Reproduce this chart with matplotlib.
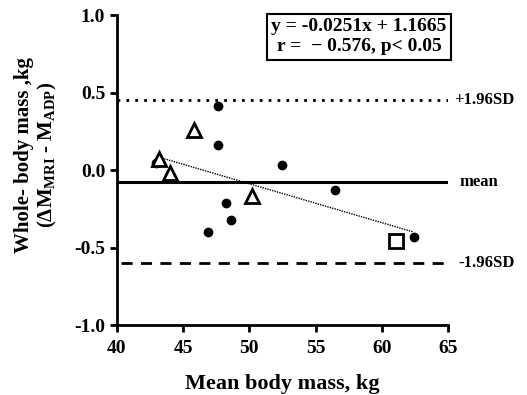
import matplotlib
matplotlib.use("Agg")
import matplotlib.pyplot as plt

plt.rcParams['font.family'] = ['Liberation Serif', 'DejaVu Serif']
plt.rcParams['font.weight'] = 'bold'
plt.rcParams['mathtext.fontset'] = 'custom'
plt.rcParams['mathtext.rm'] = 'Liberation Serif:bold'
plt.rcParams['mathtext.it'] = 'Liberation Serif:bold'
plt.rcParams['mathtext.bf'] = 'Liberation Serif:bold'

# data
circle_x = [47.6, 47.6, 52.5, 56.5, 48.2, 48.6, 46.9, 62.4, 42.95]
circle_y = [0.41, 0.16, 0.03, -0.13, -0.21, -0.32, -0.40, -0.43, 0.045]
tri_x = [43.2, 44.0, 45.8, 50.2]
tri_y = [0.07, -0.02, 0.26, -0.17]
square_x = [61.1]
square_y = [-0.455]

mean_diff = -0.075
upper_sd = 0.45
lower_sd = -0.60
slope = -0.0251
intercept = 1.1665
fit_x = [43.2, 62.4]

fig = plt.figure(figsize=(5.27, 3.95), dpi=100)
ax = fig.add_axes([0.222, 0.177, 0.628, 0.785])

ax.plot([40, 65], [upper_sd, upper_sd], color='black', lw=2, linestyle=(0, (1, 2.2)))
ax.plot([40, 65], [mean_diff, mean_diff], color='black', lw=2.2)
ax.plot([40.3, 65], [lower_sd, lower_sd], color='black', lw=2, linestyle=(0, (4, 3)))

ax.plot(fit_x, [slope * v + intercept for v in fit_x], color='black', lw=1, linestyle=(0, (1, 0.8)))

ax.plot(circle_x, circle_y, 'o', color='black', ms=6, zorder=3)
ax.plot(tri_x, tri_y, '^', mfc='white', mec='black', mew=2, ms=10, zorder=4)
ax.plot(square_x, square_y, 's', mfc='white', mec='black', mew=2, ms=10, zorder=4)

ax.text(65.5, upper_sd, '+1.96SD', fontsize=12, fontweight='bold', va='center', ha='left')
ax.text(65.9, mean_diff, 'mean', fontsize=12, fontweight='bold', va='center', ha='left')
ax.text(65.8, lower_sd, '-1.96SD', fontsize=12, fontweight='bold', va='center', ha='left')

ax.text(0.731, 0.99, 'y = -0.0251x + 1.1665\nr =  \u2212 0.576, p< 0.05', transform=ax.transAxes,
        fontsize=14, fontweight='bold', ha='center', va='top', multialignment='center',
        linespacing=1.25,
        bbox=dict(boxstyle='square,pad=0.22', fc='white', ec='black', lw=1.5))

ax.set_xlim(40, 65)
ax.set_ylim(-1.0, 1.0)
ax.set_xticks([40, 45, 50, 55, 60, 65])
ax.set_yticks([-1.0, -0.5, 0.0, 0.5, 1.0])
ax.set_yticklabels(['-1.0', '-0.5', '0.0', '0.5', '1.0'])
for s in ['top', 'right']:
    ax.spines[s].set_visible(False)
for s in ['left', 'bottom']:
    ax.spines[s].set_linewidth(2)
ax.tick_params(width=2, length=5, labelsize=14)
ax.tick_params(axis='x', pad=6)
for lab in ax.get_xticklabels() + ax.get_yticklabels():
    lab.set_fontweight('bold')

ax.set_xlabel('Mean body mass, kg', fontsize=16, fontweight='bold', labelpad=12)
ax.set_ylabel('Whole- body mass ,kg\n(\u0394M$_{\\mathrm{MRI}}$ - M$_{\\mathrm{ADP}}$)',
              fontsize=15, fontweight='bold', linespacing=1.1)
ax.yaxis.set_label_coords(-0.175, 0.55)

fig.savefig('out.png', dpi=100)
